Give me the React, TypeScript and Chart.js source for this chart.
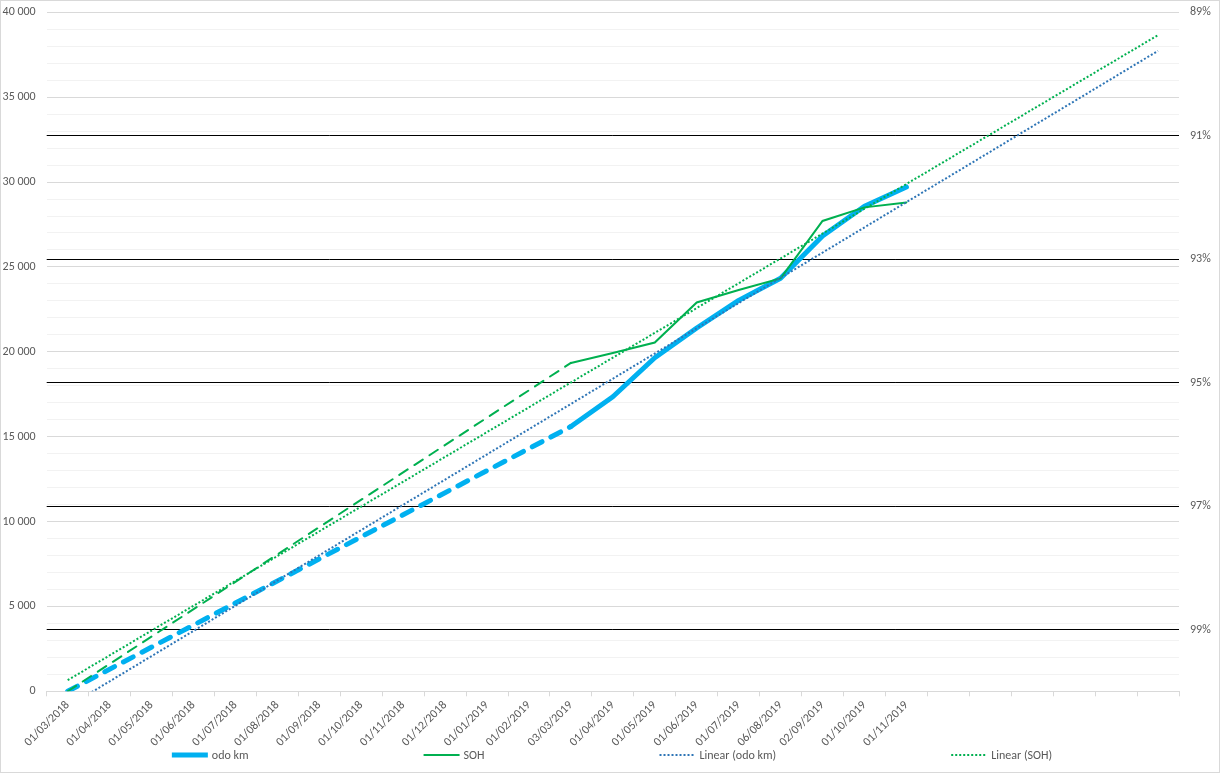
import React, { useEffect, useRef } from "react";
import { Chart, registerables } from "chart.js";

Chart.register(...registerables);

const FONT = "Calibri, Carlito, 'Liberation Sans', Arial, sans-serif";

const categories = [
  "01/03/2018", "01/04/2018", "01/05/2018", "01/06/2018", "01/07/2018", "01/08/2018",
  "01/09/2018", "01/10/2018", "01/11/2018", "01/12/2018", "01/01/2019", "01/02/2019",
  "03/03/2019", "01/04/2019", "01/05/2019", "01/06/2019", "01/07/2019", "06/08/2019",
  "02/09/2019", "01/10/2019", "01/11/2019", "", "", "", "", "", "",
];

const odoKm = [
  0, null, null, null, null, null, null, null, null, null, null, null,
  15600, 17350, 19650, 21400, 23030, 24330, 26820, 28570, 29710,
  null, null, null, null, null, null,
];

const soh = [
  100, null, null, null, null, null, null, null, null, null, null, null,
  94.68, 94.52, 94.35, 93.7, 93.5, 93.31, 92.38, 92.16, 92.08,
  null, null, null, null, null, null,
];

const linearOdoKm = [
  -900, null, null, null, null, null, null, null, null, null, null, null, null,
  null, null, null, null, null, null, null, null, null, null, null, null, null,
  37730,
];

const linearSoh = [
  99.82, null, null, null, null, null, null, null, null, null, null, null, null,
  null, null, null, null, null, null, null, null, null, null, null, null, null,
  89.37,
];

const leftTicks = [0, 5000, 10000, 15000, 20000, 25000, 30000, 35000, 40000];
const rightTicks = [89, 91, 93, 95, 97, 99];

const fmtThousands = (v: number) => String(v).replace(/\B(?=(\d{3})+(?!\d))/g, " ");

const legendPlugin = {
  id: "excelLegend",
  afterDraw(chart: any) {
    const ctx = chart.ctx as CanvasRenderingContext2D;
    ctx.save();
    ctx.font = `12px ${FONT}`;
    const lineLen = 36;
    const gapText = 4;
    const gapItem = 175;
    const items = chart.data.datasets.map((ds: any) => ({
      label: ds.label,
      color: ds.borderColor,
      width: ds.borderWidth,
      dash: ds.legendDash || [],
    }));
    const widths = items.map((it: any) => lineLen + gapText + ctx.measureText(it.label).width);
    const total = widths.reduce((a: number, b: number) => a + b, 0) + gapItem * (items.length - 1);
    let x = (chart.width - total) / 2 + 2;
    const y = chart.height - 17;
    items.forEach((it: any, i: number) => {
      ctx.beginPath();
      ctx.setLineDash(it.dash);
      ctx.lineWidth = it.width;
      ctx.strokeStyle = it.color;
      ctx.lineCap = "butt";
      ctx.moveTo(x, y);
      ctx.lineTo(x + lineLen, y);
      ctx.stroke();
      ctx.setLineDash([]);
      ctx.fillStyle = "#595959";
      ctx.textAlign = "left";
      ctx.textBaseline = "middle";
      ctx.fillText(it.label, x + lineLen + gapText, y + 1);
      x += widths[i] + gapItem;
    });
    ctx.restore();
  },
};

export default function App() {
  const ref = useRef<HTMLCanvasElement | null>(null);

  useEffect(() => {
    if (!ref.current) return;
    const gapDash = (dash: number[]) => (c: any) =>
      c.p0.skip || c.p1.skip ? dash : undefined;

    const chart = new Chart(ref.current, {
      type: "line",
      data: {
        labels: categories,
        datasets: [
          {
            label: "odo km",
            data: odoKm,
            yAxisID: "y",
            borderColor: "#00b0f0",
            backgroundColor: "#00b0f0",
            borderWidth: 5,
            borderCapStyle: "round",
            borderJoinStyle: "round",
            pointRadius: 0,
            spanGaps: true,
            order: 3,
            segment: { borderDash: gapDash([11, 10]) },
          } as any,
          {
            label: "SOH",
            data: soh,
            yAxisID: "y2",
            borderColor: "#00b050",
            backgroundColor: "#00b050",
            borderWidth: 2,
            borderCapStyle: "round",
            pointRadius: 0,
            spanGaps: true,
            order: 2,
            segment: { borderDash: gapDash([10, 8]) },
          } as any,
          {
            label: "Linear (odo km)",
            data: linearOdoKm,
            yAxisID: "y",
            borderColor: "#2e75b6",
            backgroundColor: "#2e75b6",
            borderWidth: 2,
            borderDash: [2, 2],
            legendDash: [2, 2],
            pointRadius: 0,
            spanGaps: true,
            order: 1,
          } as any,
          {
            label: "Linear (SOH)",
            data: linearSoh,
            yAxisID: "y2",
            borderColor: "#00b050",
            backgroundColor: "#00b050",
            borderWidth: 2,
            borderDash: [2, 2],
            legendDash: [2, 2],
            pointRadius: 0,
            spanGaps: true,
            order: 0,
          } as any,
        ],
      },
      options: {
        responsive: false,
        animation: false,
        layout: { padding: { top: 11.3, bottom: 25, left: 0, right: 0 } },
        plugins: {
          legend: { display: false },
          tooltip: { enabled: false },
        },
        scales: {
          x: {
            type: "category",
            offset: true,
            grid: {
              offset: true,
              drawOnChartArea: false,
              drawTicks: true,
              tickLength: 5,
              color: "#d9d9d9",
            },
            border: { display: true, color: "#d9d9d9" },
            ticks: {
              autoSkip: false,
              maxRotation: 45,
              minRotation: 45,
              padding: 2,
              color: "#595959",
              font: { family: FONT, size: 12 },
            },
            afterFit: (s: any) => {
              s.height = 55.7;
            },
          },
          y: {
            position: "left",
            min: 0,
            max: 40000,
            grid: {
              drawTicks: false,
              color: (c: any) => (c.tick.value % 5000 === 0 ? "#d9d9d9" : "#f2f2f2"),
            },
            border: { display: false },
            ticks: {
              stepSize: 1000,
              autoSkip: false,
              padding: 11,
              color: "#595959",
              font: { family: FONT, size: 12 },
              callback: (v: any) => (leftTicks.includes(Number(v)) ? fmtThousands(Number(v)) : ""),
            },
            afterFit: (s: any) => {
              s.width = 45.7;
              s.paddingTop = 0;
              s.paddingBottom = 0;
            },
          },
          y2: {
            position: "right",
            reverse: true,
            min: 89,
            max: 100,
            grid: {
              drawTicks: false,
              lineWidth: 1,
              color: (c: any) => (c.tick.value === 89 ? "rgba(0,0,0,0)" : "#000000"),
            },
            border: { display: false },
            afterBuildTicks: (s: any) => {
              s.ticks = rightTicks.map((v) => ({ value: v }));
            },
            ticks: {
              padding: 11,
              color: "#595959",
              font: { family: FONT, size: 12 },
              callback: (v: any) => `${v}%`,
            },
            afterFit: (s: any) => {
              s.width = 40;
              s.paddingTop = 0;
              s.paddingBottom = 0;
            },
          },
        },
      } as any,
      plugins: [legendPlugin],
    });
    return () => chart.destroy();
  }, []);

  return (
    <div
      style={{
        position: "absolute",
        left: 0,
        top: 0,
        width: 1220,
        height: 773,
        boxSizing: "border-box",
        border: "1px solid #d9d9d9",
        background: "#ffffff",
      }}
    >
      <canvas ref={ref} width={1218} height={771} style={{ display: "block" }} />
    </div>
  );
}
